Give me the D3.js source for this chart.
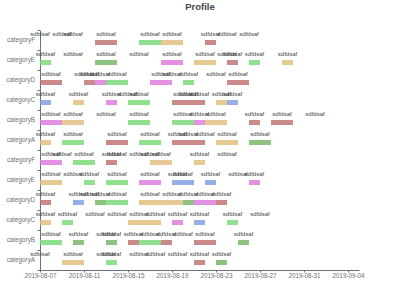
<!DOCTYPE html>
<html>
<head>
<meta charset="utf-8">
<script src="https://cdn.jsdelivr.net/npm/d3@7"></script>
<style>
  body { margin: 0; background: #fff; }
  svg text { font-family: "Liberation Sans", Arial, sans-serif; }
</style>
</head>
<body>
<div id="chart"></div>
<script>
const WIDTH = 400;
const HEIGHT = 300;
const MARGINS = { left: 40, right: 41, top: 30, bottom: 30 };

// rows from bottom to top
const categories = [
  "categoryA", "categoryB", "categoryC", "categoryD", "categoryE", "categoryF",
  "categoryA", "categoryB", "categoryC", "categoryD", "categoryE", "categoryF"
];

const typeNames = ["JS Heap", "Documents", "Nodes", "Listeners", "GPU Memory", "GPU"];
const typeColors = ["#7b9ce1", "#bd6d6c", "#75d874", "#e0bc78", "#dc77dc", "#72b362"];

const startDate = "2019-08-07";
const endDate = "2019-09-05";
const xTickLabels = [
  "2019-08-07", "2019-08-11", "2019-08-15", "2019-08-19",
  "2019-08-23", "2019-08-27", "2019-08-31", "2019-09-04"
];

const itemLabel = "sdfdsaf";

// [row, type, start day (from startDate), duration in days]
const items = [
  // row 0 categoryA
  [0, 0, 0, 0], [0, 3, 2, 2], [0, 0, 6, 0], [0, 2, 6, 1], [0, 0, 9, 0],
  [0, 0, 10.5, 0], [0, 0, 12.5, 0], [0, 1, 14, 1], [0, 5, 16, 1],
  // row 1 categoryB
  [1, 2, 0, 2], [1, 5, 3, 1], [1, 0, 6, 0], [1, 5, 6, 1], [1, 1, 8, 1],
  [1, 2, 9, 2], [1, 1, 11, 1], [1, 0, 13, 0], [1, 1, 14, 2], [1, 5, 18, 1],
  // row 2 categoryC
  [2, 3, 0, 1], [2, 2, 2, 1], [2, 0, 5, 0], [2, 0, 7, 0], [2, 3, 8, 2],
  [2, 3, 10, 1], [2, 4, 12, 1], [2, 0, 14, 1], [2, 2, 17, 1], [2, 0, 20, 0],
  // row 3 categoryD
  [3, 1, 0, 1], [3, 0, 3, 1], [3, 0, 4.5, 0], [3, 5, 5, 1], [3, 2, 6, 2],
  [3, 3, 9, 2], [3, 3, 11, 2], [3, 5, 13, 1], [3, 4, 14, 2], [3, 1, 16, 1],
  // row 4 categoryE
  [4, 3, 0, 2], [4, 0, 3, 0], [4, 2, 4, 1], [4, 2, 6, 2], [4, 4, 9, 2],
  [4, 0, 12.5, 0], [4, 0, 12, 2], [4, 0, 15, 1], [4, 0, 18, 0], [4, 4, 19, 1],
  // row 5 categoryF
  [5, 4, 0, 2], [5, 0, 2, 0], [5, 2, 3, 2], [5, 1, 6, 1], [5, 0, 7, 0],
  [5, 0, 9, 0], [5, 0, 10, 0], [5, 3, 10, 2], [5, 3, 14, 1], [5, 0, 17, 0],
  // row 6 categoryA
  [6, 3, 0, 1], [6, 2, 2, 2], [6, 1, 6, 2], [6, 2, 9, 2], [6, 0, 12.5, 0],
  [6, 1, 12, 3], [6, 0, 15, 0], [6, 3, 16, 2], [6, 5, 19, 2],
  // row 7 categoryB
  [7, 4, 0, 2], [7, 3, 2, 2], [7, 0, 6, 0], [7, 2, 8, 2], [7, 2, 12, 2],
  [7, 4, 14, 1], [7, 3, 15, 2], [7, 1, 19, 1], [7, 1, 21, 2], [7, 0, 25, 0],
  // row 8 categoryC
  [8, 0, 0, 1], [8, 3, 3, 1], [8, 4, 6, 1], [8, 0, 8, 0], [8, 2, 8, 2],
  [8, 1, 12, 3], [8, 0, 13, 0], [8, 0, 14.5, 0], [8, 3, 16, 1], [8, 0, 17, 1],
  // row 9 categoryD
  [9, 1, 0, 2], [9, 0, 4, 0], [9, 1, 4, 1], [9, 4, 5, 1], [9, 2, 6, 2],
  [9, 4, 10, 2], [9, 0, 12, 0], [9, 2, 13, 1], [9, 0, 16, 0], [9, 1, 17, 2],
  // row 10 categoryE
  [10, 2, 0, 1], [10, 0, 3, 0], [10, 5, 5, 2], [10, 0, 9, 0], [10, 4, 11, 2],
  [10, 3, 14, 2], [10, 0, 17, 0], [10, 1, 17, 1], [10, 2, 19, 1], [10, 3, 22, 1],
  // row 11 categoryF
  [11, 0, 0, 0], [11, 0, 2, 0], [11, 0, 3, 0], [11, 1, 5, 2], [11, 2, 9, 2],
  [11, 3, 11, 2], [11, 1, 15, 1], [11, 0, 17, 0], [11, 0, 19, 0]
];

const parseDate = d3.timeParse("%Y-%m-%d");
const base = parseDate(startDate);

const svg = d3.select("#chart")
  .append("svg")
  .attr("width", WIDTH)
  .attr("height", HEIGHT);

const X_SCALE = d3.scaleTime()
  .domain([base, parseDate(endDate)])
  .range([MARGINS.left, WIDTH - MARGINS.right]);

const Y_BAND = d3.scaleBand()
  .domain(d3.range(categories.length))
  .range([HEIGHT - MARGINS.bottom, MARGINS.top]);

const Y_EDGE = d3.scaleLinear()
  .domain([0, categories.length])
  .range([HEIGHT - MARGINS.bottom, MARGINS.top]);

// title
svg.append("text")
  .attr("x", WIDTH / 2)
  .attr("y", 10)
  .attr("text-anchor", "middle")
  .attr("font-size", "9.5px")
  .attr("font-weight", "bold")
  .attr("fill", "#464646")
  .text("Profile");

// x axis
const xAxis = svg.append("g")
  .attr("transform", "translate(0," + (HEIGHT - MARGINS.bottom) + ")")
  .call(d3.axisBottom(X_SCALE)
    .tickValues(xTickLabels.map(parseDate))
    .tickFormat(d3.timeFormat("%Y-%m-%d"))
    .tickSize(2.5)
    .tickSizeOuter(0)
    .tickPadding(1.5));
xAxis.selectAll("text").attr("font-size", "6.3px").attr("fill", "#6e7079");
xAxis.selectAll("line, path").attr("stroke", "#6e7079");
xAxis.attr("font-family", null);

// y axis line + ticks between categories
const yAxis = svg.append("g")
  .attr("transform", "translate(" + MARGINS.left + ",0)")
  .call(d3.axisLeft(Y_EDGE)
    .tickValues(d3.range(categories.length + 1))
    .tickFormat("")
    .tickSize(2.5)
    .tickSizeOuter(0));
yAxis.selectAll("line, path").attr("stroke", "#6e7079");

// category labels
svg.append("g")
  .selectAll("text")
  .data(categories)
  .enter()
  .append("text")
  .attr("x", MARGINS.left - 5)
  .attr("y", (d, i) => Y_BAND(i) + Y_BAND.bandwidth() / 2 + 2)
  .attr("text-anchor", "end")
  .attr("font-size", "6.3px")
  .attr("fill", "#6e7079")
  .text((d) => d);

// bars
const toX = (day) => X_SCALE(d3.timeHour.offset(base, day * 24));

svg.append("g")
  .selectAll("rect")
  .data(items.filter((d) => d[3] > 0))
  .enter()
  .append("rect")
  .attr("x", (d) => toX(d[2]))
  .attr("y", (d) => Y_BAND(d[0]) + Y_BAND.bandwidth() / 2)
  .attr("width", (d) => toX(d[2] + d[3]) - toX(d[2]))
  .attr("height", 5)
  .attr("fill", (d) => typeColors[d[1]])
  .attr("fill-opacity", 0.8);

// labels above bars
svg.append("g")
  .selectAll("text")
  .data(items)
  .enter()
  .append("text")
  .attr("x", (d) => toX(d[2] + d[3] / 2))
  .attr("y", (d) => Y_BAND(d[0]) + Y_BAND.bandwidth() / 2 - 4.5)
  .attr("text-anchor", "middle")
  .attr("font-size", "6px")
  .attr("fill", "#444")
  .text(itemLabel);
</script>
</body>
</html>
